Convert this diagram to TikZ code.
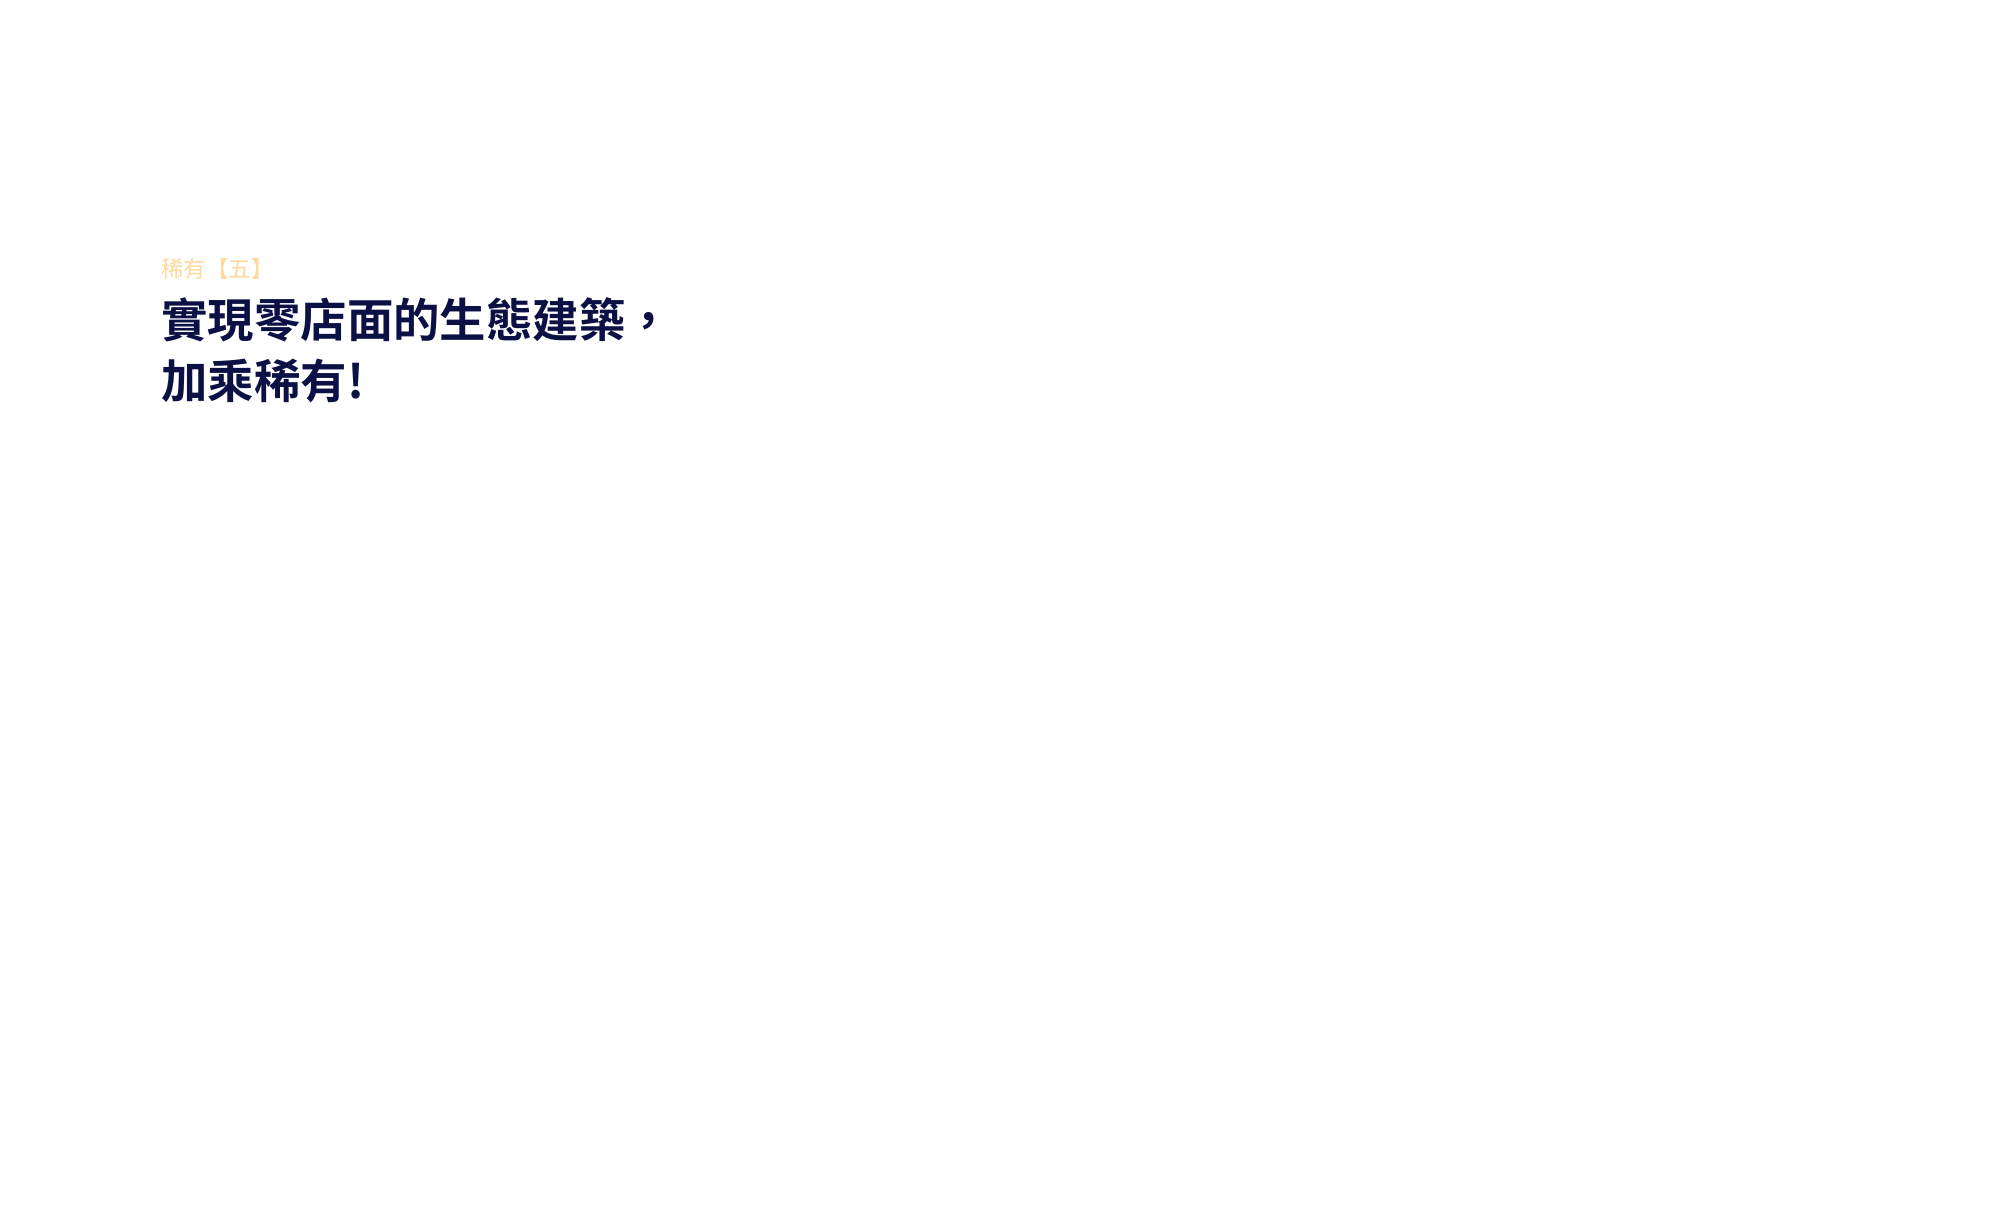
\documentclass[tikz,border=0pt]{standalone}
\usepackage{fontspec}
\usepackage{xcolor}
\usepackage{tikz}
\usetikzlibrary{positioning}
\newfontfamily\cjk{Noto Sans CJK TC}[BoldFont={Noto Sans CJK TC Bold}]
\definecolor{navytitle}{HTML}{0B1045}
\definecolor{goldsub}{HTML}{FDD99B}

\begin{document}
\begin{tikzpicture}[x=0.5pt,y=-0.5pt,
    label text/.style={inner sep=0pt,anchor=base west,font=\cjk},
    sub text/.style={label text,text=goldsub,font=\cjk\fontsize{11.2pt}{13pt}\selectfont},
    title text/.style={label text,text=navytitle,font=\cjk\bfseries\fontsize{23.2pt}{27pt}\selectfont}]
    \useasboundingbox[fill=white] (0,0) rectangle (2000,1207);

    \node[sub text] (sub) at (161,277) {稀有【五】};
    \node[title text] (line1) at (161,337) {實現零店面的生態建築，};
    \node[title text] (line2) at (161,398) {加乘稀有!};
\end{tikzpicture}
\end{document}
